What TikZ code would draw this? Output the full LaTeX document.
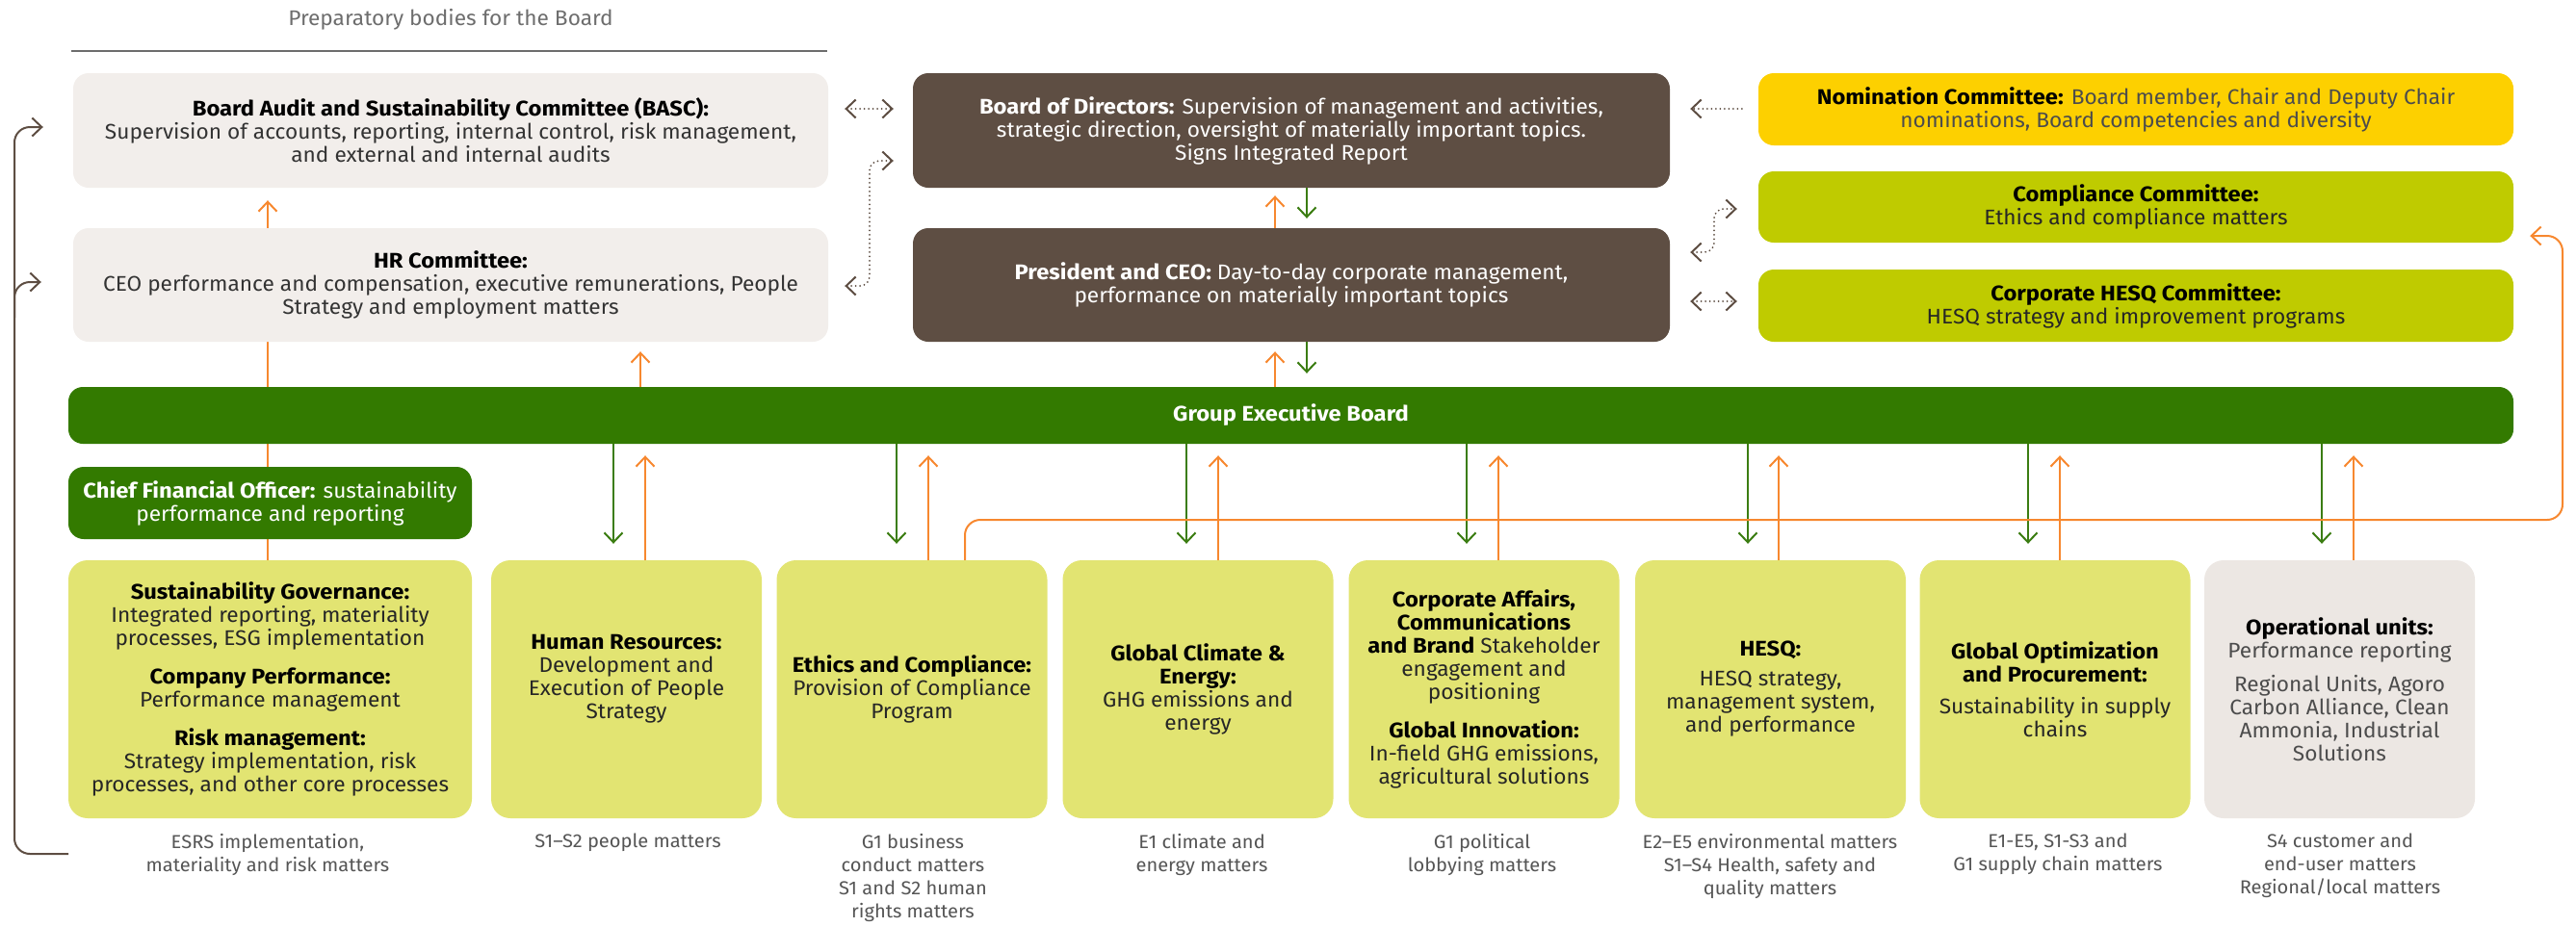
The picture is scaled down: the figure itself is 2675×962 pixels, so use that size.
\documentclass[tikz,border=0pt]{standalone}
\usepackage{fontspec}
\setmainfont{Fira Sans}[FakeStretch=1.03, BoldFeatures={FakeStretch=1.08}]
\usetikzlibrary{arrows.meta}
\pgfdeclarelayer{bg}
\pgfsetlayers{bg,main}
\definecolor{beige}{HTML}{F2EEEB}
\definecolor{dbrown}{HTML}{5E4E43}
\definecolor{nomy}{HTML}{FDD000}
\definecolor{lime}{HTML}{BFCB00}
\definecolor{dgreen}{HTML}{337A00}
\definecolor{lgreen}{HTML}{E2E472}
\definecolor{opsgrey}{HTML}{ECE7E3}
\definecolor{orng}{HTML}{F7882F}
\definecolor{gline}{HTML}{3B7D12}
\definecolor{txtg}{HTML}{333333}
\definecolor{lblg}{HTML}{555555}
\definecolor{prepg}{HTML}{6D6D6D}
\newcommand\boxfont{\fontsize{22}{24}\selectfont}
\newcommand\lblfont{\fontsize{19.5}{24}\selectfont}
\newcommand\hd[1]{\textbf{\color{black}#1}}
\begin{document}
\begin{tikzpicture}[x=1pt,y=-1pt,
  >={Straight Barb[length=10pt,width=19pt]},
  bx/.style={rounded corners=16pt, inner sep=0pt, align=center, font=\boxfont, text=txtg},
  bbx/.style={bx, rounded corners=20pt, fill=lgreen, minimum width=281pt, minimum height=268pt, text=black!85},
  lbl/.style={inner sep=0pt, align=center, font=\lblfont, text=lblg, anchor=north},
  oar/.style={draw=orng, line width=2pt, ->},
  gar/.style={draw=gline, line width=2pt, ->},
  dotl/.style={draw=dbrown, line width=2pt, dash pattern=on 0pt off 4.5pt, line cap=round},
  bline/.style={draw=dbrown, line width=2pt, rounded corners=16pt, ->}]
\useasboundingbox (0,0) rectangle (2675,962);

% header
\node[font=\boxfont, text=prepg, inner sep=0pt] (prep) at (468,20) {Preparatory bodies for the Board};
\coordinate (pl1) at (74,53);
\coordinate (pl2) at (859,53);
\draw[prepg, line width=1.5pt] (pl1) -- (pl2);

% top left
\node[bx, fill=beige, minimum width=784pt, minimum height=119pt] (basc) at (468,135.5)
  {\hd{Board Audit and Sustainability Committee (BASC):}\\Supervision of accounts, reporting, internal control, risk management,\\and external and internal audits};
\node[bx, fill=beige, minimum width=784pt, minimum height=118pt] (hrc) at (468,296)
  {\hd{HR Committee:}\\CEO performance and compensation, executive remunerations, People\\Strategy and employment matters};

% centre
\node[bx, fill=dbrown, text=white, minimum width=786pt, minimum height=119pt] (bod) at (1341,135.5)
  {\textbf{Board of Directors:} Supervision of management and activities,\\strategic direction, oversight of materially important topics.\\Signs Integrated Report};
\node[bx, fill=dbrown, text=white, minimum width=786pt, minimum height=118pt] (ceo) at (1341,296)
  {\textbf{President and CEO:} Day-to-day corporate management,\\performance on materially important topics};

% right
\node[bx, fill=nomy, text=black!70, minimum width=784pt, minimum height=75pt] (nom) at (2218,113.5)
  {\hd{Nomination Committee:} Board member, Chair and Deputy Chair\\nominations, Board competencies and diversity};
\node[bx, fill=lime, text=black!85, minimum width=784pt, minimum height=74pt] (comp) at (2218,215)
  {\hd{Compliance Committee:}\\Ethics and compliance matters};
\node[bx, fill=lime, text=black!85, minimum width=784pt, minimum height=75pt] (chesq) at (2218,317.5)
  {\hd{Corporate HESQ Committee:}\\HESQ strategy and improvement programs};

% executive board and CFO
\node[bx, rounded corners=15pt, fill=dgreen, text=white, minimum width=2539pt, minimum height=59pt] (geb) at (1340.5,431.5)
  {\textbf{Group Executive Board}};
\node[bx, fill=dgreen, text=white, minimum width=419pt, minimum height=75pt] (cfo) at (280.5,522.5)
  {\textbf{Chief Financial Officer:} sustainability\\performance and reporting};

% bottom row
\node[bbx, minimum width=419pt] (sg) at (280.5,716)
  {\hd{Sustainability Governance:}\\Integrated reporting, materiality\\processes, ESG implementation\\[16pt]\hd{Company Performance:}\\Performance management\\[16pt]\hd{Risk management:}\\Strategy implementation, risk\\processes, and other core processes};
\node[bbx] (hrb) at (650.5,716) {};
\node[bx, text=black!85] (hrbt) at (650.5,705.5)
  {\hd{Human Resources:}\\Development and\\Execution of People\\Strategy};
\node[bbx] (eth) at (947,716)
  {\hd{Ethics and Compliance:}\\Provision of Compliance\\Program};
\node[bbx] (clim) at (1244,716)
  {\hd{Global Climate \&}\\\hd{Energy:}\\GHG emissions and\\energy};
\node[bbx] (corp) at (1541,716)
  {\hd{Corporate Affairs,}\\\hd{Communications}\\\hd{and Brand} Stakeholder\\engagement and\\positioning\\[16pt]\hd{Global Innovation:}\\In-field GHG emissions,\\agricultural solutions};
\node[bbx] (hesq) at (1838.5,716)
  {\hd{HESQ:}\\[7pt]HESQ strategy,\\management system,\\and performance};
\node[bbx] (gopt) at (2134,716)
  {\hd{Global Optimization}\\\hd{and Procurement:}\\[9pt]Sustainability in supply\\chains};
\node[bbx, fill=opsgrey, text=black!70] (ops) at (2429.5,716)
  {\hd{Operational units:}\\Performance reporting\\[11pt]Regional Units, Agoro\\Carbon Alliance, Clean\\Ammonia, Industrial\\Solutions};

% labels under the boxes
\node[lbl] (l1) at (278,866) {ESRS implementation,\\materiality and risk matters};
\node[lbl] (l2) at (652,866) {S1–S2 people matters};
\node[lbl] (l3) at (948,866) {G1 business\\conduct matters\\S1 and S2 human\\rights matters};
\node[lbl] (l4) at (1248,866) {E1 climate and\\energy matters};
\node[lbl] (l5) at (1539,866) {G1 political\\lobbying matters};
\node[lbl] (l6) at (1838,866) {E2–E5 environmental matters\\S1–S4 Health, safety and\\quality matters};
\node[lbl] (l7) at (2137,866) {E1-E5, S1-S3 and\\G1 supply chain matters};
\node[lbl] (l8) at (2430,866) {S4 customer and\\end-user matters\\Regional/local matters};

% orange line from sustainability governance to BASC, behind boxes
\coordinate (xo1) at (278,0);
\begin{pgfonlayer}{bg}
\draw[oar, shorten >=13pt] (sg.north -| xo1) -- (basc.south -| xo1);
\end{pgfonlayer}

% GEB -> HR committee
\coordinate (xo2) at (665,0);
\draw[oar, shorten >=10pt] (geb.north -| xo2) -- (hrc.south -| xo2);

% board <-> CEO <-> GEB
\coordinate (xoc) at (1324,0);
\coordinate (xgc) at (1357,0);
\draw[oar, shorten >=8pt] (ceo.north -| xoc) -- (bod.south -| xoc);
\draw[gar, shorten >=10pt] (bod.south -| xgc) -- (ceo.north -| xgc);
\draw[oar, shorten >=10pt] (geb.north -| xoc) -- (ceo.south -| xoc);
\draw[gar, shorten >=14pt] (ceo.south -| xgc) -- (geb.north -| xgc);

% GEB <-> functions
\foreach \b/\g/\o in {hrb/637/670, eth/931/964, clim/1232/1265, corp/1523/1556, hesq/1815/1847, gopt/2106/2139, ops/2411/2444} {
  \coordinate (g-\b) at (\g,0);
  \coordinate (o-\b) at (\o,0);
  \draw[gar, shorten >=17pt] (geb.south -| g-\b) -- (\b.north -| g-\b);
  \draw[oar, shorten >=12pt] (\b.north -| o-\b) -- (geb.south -| o-\b);
}

% ethics -> compliance committee
\coordinate (xoe) at (1002,0);
\coordinate (oc1) at (2661,540);
\coordinate (oc2) at (2661,245);
\draw[oar, rounded corners=16pt, shorten >=17pt] (eth.north -| xoe) |- (oc1) -- (oc2) -- (comp.east |- oc2);

% left brown feedback line
\coordinate (lb0) at (71,887);
\coordinate (lb1) at (15,887);
\coordinate (lbt) at (15,132);
\coordinate (lbh) at (15,293);
\coordinate (lbb) at (15,330);
\draw[bline, shorten >=31pt] (lb0) -- (lb1) -- (lbt) -- (basc.west |- lbt);
\draw[bline, shorten >=33pt] (lbb) |- (hrc.west |- lbh);

% dotted links
\coordinate (d0) at (0,113);
\draw[dotl, <->, shorten <=17pt, shorten >=20pt] (basc.east |- d0) -- (bod.west |- d0);
\coordinate (d1) at (903,297);
\coordinate (d2) at (903,167);
\draw[dotl, <->, rounded corners=10pt, shorten <=17pt, shorten >=20pt] (hrc.east |- d1) -- (d1) -- (d2) -- (bod.west |- d2);
\draw[dotl, ->, shorten <=17pt, shorten >=21pt] (nom.west |- d0) -- (bod.east |- d0);
\coordinate (d3) at (1780,262);
\coordinate (d4) at (1780,217);
\draw[dotl, <->, rounded corners=10pt, shorten <=21pt, shorten >=22pt] (ceo.east |- d3) -- (d3) -- (d4) -- (comp.west |- d4);
\coordinate (d5) at (0,313);
\draw[dotl, <->, shorten <=21pt, shorten >=22pt] (ceo.east |- d5) -- (chesq.west |- d5);
\end{tikzpicture}
\end{document}
